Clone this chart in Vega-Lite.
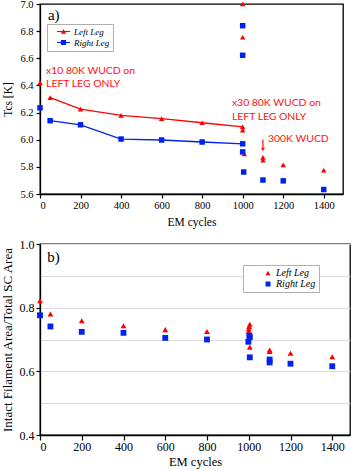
{
  "$schema": "https://vega.github.io/schema/vega-lite/v6.json",
  "background": "white",
  "padding": {"top": -2, "left": 0, "right": 0, "bottom": 0},
  "spacing": 8,
  "resolve": {
    "scale": {"color": "independent", "shape": "independent"},
    "legend": {"color": "independent", "shape": "independent"}
  },
  "config": {
    "view": {"stroke": "black", "strokeWidth": 1.3},
    "axis": {
      "labelFont": "Liberation Serif", "titleFont": "Liberation Serif",
      "labelColor": "black", "titleColor": "black", "titleFontWeight": "normal",
      "domainColor": "black", "domainWidth": 1.3, "tickColor": "black", "tickWidth": 1.2, "grid": false
    }
  },
  "datasets": {
    "a": [
      {"x": 0, "y": 6.42, "leg": "Left Leg", "main": 0},
      {"x": 50, "y": 6.31, "leg": "Left Leg", "main": 1},
      {"x": 200, "y": 6.225, "leg": "Left Leg", "main": 1},
      {"x": 400, "y": 6.18, "leg": "Left Leg", "main": 1},
      {"x": 600, "y": 6.155, "leg": "Left Leg", "main": 1},
      {"x": 800, "y": 6.125, "leg": "Left Leg", "main": 1},
      {"x": 1000, "y": 6.095, "leg": "Left Leg", "main": 1},
      {"x": 1000, "y": 6.07, "leg": "Left Leg", "main": 0},
      {"x": 1008, "y": 5.895, "leg": "Left Leg", "main": 0},
      {"x": 1000, "y": 6.755, "leg": "Left Leg", "main": 0},
      {"x": 1000, "y": 7.0, "leg": "Left Leg", "main": 0},
      {"x": 1100, "y": 5.87, "leg": "Left Leg", "main": 0},
      {"x": 1100, "y": 5.85, "leg": "Left Leg", "main": 0},
      {"x": 1200, "y": 5.815, "leg": "Left Leg", "main": 0},
      {"x": 1400, "y": 5.775, "leg": "Left Leg", "main": 0},
      {"x": 0, "y": 6.235, "leg": "Right Leg", "main": 0},
      {"x": 50, "y": 6.14, "leg": "Right Leg", "main": 1},
      {"x": 200, "y": 6.11, "leg": "Right Leg", "main": 1},
      {"x": 400, "y": 6.005, "leg": "Right Leg", "main": 1},
      {"x": 600, "y": 5.998, "leg": "Right Leg", "main": 1},
      {"x": 800, "y": 5.983, "leg": "Right Leg", "main": 1},
      {"x": 1000, "y": 5.97, "leg": "Right Leg", "main": 1},
      {"x": 1000, "y": 5.91, "leg": "Right Leg", "main": 0},
      {"x": 1005, "y": 5.762, "leg": "Right Leg", "main": 0},
      {"x": 1000, "y": 6.622, "leg": "Right Leg", "main": 0},
      {"x": 1000, "y": 6.84, "leg": "Right Leg", "main": 0},
      {"x": 1100, "y": 5.703, "leg": "Right Leg", "main": 0},
      {"x": 1200, "y": 5.697, "leg": "Right Leg", "main": 0},
      {"x": 1400, "y": 5.633, "leg": "Right Leg", "main": 0}
    ],
    "annoA": [
      {"x": 30, "y": 6.51, "t": "x10 80K WUCD on"},
      {"x": 30, "y": 6.41, "t": "LEFT LEG ONLY"},
      {"x": 947, "y": 6.272, "t": "x30 80K WUCD on"},
      {"x": 947, "y": 6.169, "t": "LEFT LEG ONLY"},
      {"x": 1125, "y": 6.007, "t": "300K WUCD"}
    ],
    "b": [
      {"x": 0, "y": 0.822, "leg": "Left Leg"},
      {"x": 50, "y": 0.78, "leg": "Left Leg"},
      {"x": 200, "y": 0.759, "leg": "Left Leg"},
      {"x": 400, "y": 0.743, "leg": "Left Leg"},
      {"x": 600, "y": 0.731, "leg": "Left Leg"},
      {"x": 800, "y": 0.725, "leg": "Left Leg"},
      {"x": 1000, "y": 0.733, "leg": "Left Leg"},
      {"x": 1000, "y": 0.725, "leg": "Left Leg"},
      {"x": 1005, "y": 0.748, "leg": "Left Leg"},
      {"x": 1002, "y": 0.741, "leg": "Left Leg"},
      {"x": 1005, "y": 0.676, "leg": "Left Leg"},
      {"x": 1100, "y": 0.667, "leg": "Left Leg"},
      {"x": 1100, "y": 0.662, "leg": "Left Leg"},
      {"x": 1200, "y": 0.657, "leg": "Left Leg"},
      {"x": 1400, "y": 0.646, "leg": "Left Leg"},
      {"x": 0, "y": 0.776, "leg": "Right Leg"},
      {"x": 50, "y": 0.741, "leg": "Right Leg"},
      {"x": 200, "y": 0.724, "leg": "Right Leg"},
      {"x": 400, "y": 0.721, "leg": "Right Leg"},
      {"x": 600, "y": 0.705, "leg": "Right Leg"},
      {"x": 800, "y": 0.7, "leg": "Right Leg"},
      {"x": 1003, "y": 0.712, "leg": "Right Leg"},
      {"x": 1005, "y": 0.707, "leg": "Right Leg"},
      {"x": 998, "y": 0.693, "leg": "Right Leg"},
      {"x": 1005, "y": 0.644, "leg": "Right Leg"},
      {"x": 1100, "y": 0.637, "leg": "Right Leg"},
      {"x": 1100, "y": 0.628, "leg": "Right Leg"},
      {"x": 1200, "y": 0.624, "leg": "Right Leg"},
      {"x": 1400, "y": 0.616, "leg": "Right Leg"}
    ]
  },
  "vconcat": [
    {
      "width": 303,
      "height": 190,
      "encoding": {
        "x": {
          "field": "x", "type": "quantitative",
          "scale": {"domain": [0, 1495], "nice": false, "zero": false},
          "axis": {"values": [0, 200, 400, 600, 800, 1000, 1200, 1400], "format": "d", "title": "EM cycles",
                   "labelFontSize": 10.5, "titleFontSize": 11.5, "tickSize": 4, "labelPadding": 2, "titlePadding": 6}
        },
        "y": {
          "field": "y", "type": "quantitative",
          "scale": {"domain": [5.6, 7.0], "nice": false, "zero": false},
          "axis": {"values": [5.6, 5.8, 6.0, 6.2, 6.4, 6.6, 6.8, 7.0], "format": ".1f", "title": "Tcs [K]",
                   "labelFontSize": 10.5, "titleFontSize": 11.5, "tickSize": 4, "labelPadding": 3, "titlePadding": 6}
        }
      },
      "layer": [
        {
          "data": {"name": "a"},
          "transform": [{"filter": "datum.main == 1"}],
          "mark": {"type": "line", "strokeWidth": 1.3},
          "encoding": {
            "color": {"field": "leg", "type": "nominal",
                      "scale": {"domain": ["Left Leg", "Right Leg"], "range": ["#ff0000", "#0022ee"]}, "legend": null}
          }
        },
        {
          "data": {"name": "a"},
          "mark": {"type": "point", "filled": true, "opacity": 1, "size": 30},
          "encoding": {
            "color": {"field": "leg", "type": "nominal",
                      "scale": {"domain": ["Left Leg", "Right Leg"], "range": ["#ff0000", "#0022ee"]}, "legend": null},
            "shape": {"field": "leg", "type": "nominal",
                      "scale": {"domain": ["Left Leg", "Right Leg"], "range": ["triangle-up", "square"]}, "legend": null}
          }
        },
        {
          "data": {"name": "a"},
          "transform": [{"filter": "datum.x < -100"}],
          "mark": {"type": "point", "filled": true, "opacity": 1},
          "encoding": {
            "color": {"field": "leg", "type": "nominal",
                      "scale": {"domain": ["Left Leg", "Right Leg"], "range": ["#ff0000", "#0022ee"]},
                      "legend": {"orient": "none", "legendX": 7, "legendY": 20, "title": null, "fillColor": "white",
                                 "strokeColor": "#b0b0b0", "padding": 3, "symbolOffset": 9, "symbolSize": 36,
                                 "symbolStrokeWidth": 0, "labelFont": "Liberation Serif", "labelFontStyle": "italic",
                                 "labelFontSize": 9, "labelOffset": 6, "rowPadding": 1,
                                 "labelExpr": "datum.label + '\u00a0\u00a0'"}},
            "shape": {"field": "leg", "type": "nominal",
                      "scale": {"domain": ["Left Leg", "Right Leg"],
                                "range": ["M-2.2,-0.2H2.2V0.2H-2.2Z M-0.9,0.75L0,-0.85L0.9,0.75Z",
                                          "M-2.2,-0.2H2.2V0.2H-2.2Z M-0.85,-0.85H0.85V0.85H-0.85Z"]},
                      "legend": {"orient": "none", "legendX": 7, "legendY": 20, "title": null, "fillColor": "white",
                                 "strokeColor": "#b0b0b0", "padding": 3, "symbolOffset": 9, "symbolSize": 36,
                                 "symbolStrokeWidth": 0, "labelFont": "Liberation Serif", "labelFontStyle": "italic",
                                 "labelFontSize": 9, "labelOffset": 6, "rowPadding": 1,
                                 "labelExpr": "datum.label + '\u00a0\u00a0'"}}
          }
        },
        {
          "data": {"name": "annoA"},
          "mark": {"type": "text", "align": "left", "baseline": "middle", "color": "#ff1010",
                   "font": "'Liberation Sans Narrow', Lato, sans-serif", "fontSize": 10.4},
          "encoding": {"text": {"field": "t"}}
        },
        {
          "data": {"values": [{"x": 39, "y": 6.92, "t": "a)"}]},
          "mark": {"type": "text", "align": "left", "baseline": "middle", "color": "black",
                   "font": "Liberation Serif", "fontSize": 15},
          "encoding": {"text": {"field": "t"}}
        },
        {
          "data": {"values": [{"x": 1100, "y": 6.0, "y2": 5.935}]},
          "mark": {"type": "rule", "color": "#ff1010", "strokeWidth": 1.2},
          "encoding": {"y2": {"field": "y2"}}
        },
        {
          "data": {"values": [{"x": 1100, "y": 5.928}]},
          "mark": {"type": "point", "shape": "triangle-down", "filled": true, "color": "#ff1010", "opacity": 1, "size": 16},
          "encoding": {}
        }
      ],
      "resolve": {"scale": {"color": "independent", "shape": "independent"}}
    },
    {
      "width": 310,
      "height": 191,
      "encoding": {
        "x": {
          "field": "x", "type": "quantitative",
          "scale": {"domain": [0, 1485], "nice": false, "zero": false},
          "axis": {"values": [0, 200, 400, 600, 800, 1000, 1200, 1400], "format": "d", "title": "EM cycles",
                   "labelFontSize": 12, "titleFontSize": 12.5, "tickSize": 5, "labelPadding": 1, "titlePadding": 3}
        },
        "y": {
          "field": "y", "type": "quantitative",
          "scale": {"domain": [0.4, 1.0], "nice": false, "zero": false},
          "axis": {"values": [0.4, 0.5, 0.6, 0.7, 0.8, 0.9, 1.0], "format": ".1f",
                   "labelExpr": "round(datum.value * 10) % 2 == 0 ? datum.label : ''",
                   "tickOpacity": {"condition": {"test": "round(datum.value * 10) % 2 == 0", "value": 1}, "value": 0},
                   "grid": true, "gridColor": "#dcdcdc", "gridWidth": 1,
                   "title": "Intact Filament Area/Total SC Area",
                   "labelFontSize": 12, "titleFontSize": 13, "tickSize": 4, "labelPadding": 2, "titlePadding": 5}
        }
      },
      "layer": [
        {
          "data": {"name": "b"},
          "mark": {"type": "point", "filled": true, "opacity": 1, "size": 34},
          "encoding": {
            "color": {"field": "leg", "type": "nominal",
                      "scale": {"domain": ["Left Leg", "Right Leg"], "range": ["#ff0000", "#0022ee"]},
                      "legend": {"orient": "none", "legendX": 203, "legendY": 21, "title": null, "fillColor": "white",
                                 "strokeColor": "#b0b0b0", "padding": 3, "symbolOffset": 17, "symbolSize": 25,
                                 "symbolStrokeWidth": 0, "labelFont": "Liberation Serif", "labelFontStyle": "italic",
                                 "labelFontSize": 10, "labelOffset": 3, "rowPadding": 1,
                                 "labelExpr": "datum.label + '\u00a0\u00a0\u00a0\u00a0\u00a0\u00a0'"}},
            "shape": {"field": "leg", "type": "nominal",
                      "scale": {"domain": ["Left Leg", "Right Leg"], "range": ["triangle-up", "square"]},
                      "legend": {"orient": "none", "legendX": 203, "legendY": 21, "title": null, "fillColor": "white",
                                 "strokeColor": "#b0b0b0", "padding": 3, "symbolOffset": 17, "symbolSize": 25,
                                 "symbolStrokeWidth": 0, "labelFont": "Liberation Serif", "labelFontStyle": "italic",
                                 "labelFontSize": 10, "labelOffset": 3, "rowPadding": 1,
                                 "labelExpr": "datum.label + '\u00a0\u00a0\u00a0\u00a0\u00a0\u00a0'"}}
          }
        },
        {
          "data": {"values": [{"x": 35, "y": 0.958, "t": "b)"}]},
          "mark": {"type": "text", "align": "left", "baseline": "middle", "color": "black",
                   "font": "Liberation Serif", "fontSize": 15},
          "encoding": {"text": {"field": "t"}}
        }
      ]
    }
  ]
}
